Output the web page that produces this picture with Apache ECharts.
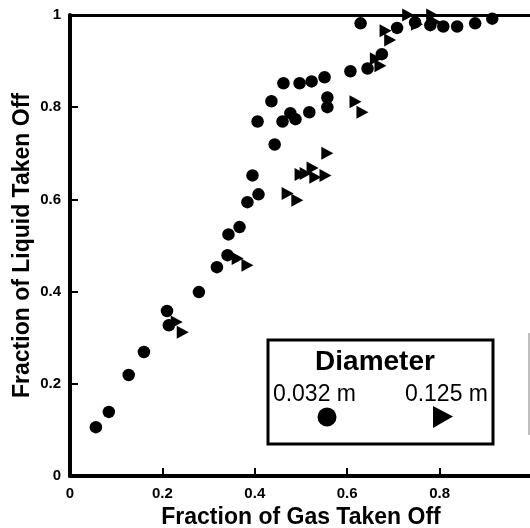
<!DOCTYPE html>
<html>
<head>
<meta charset="utf-8">
<script src="https://cdn.jsdelivr.net/npm/echarts@6/dist/echarts.min.js"></script>
<style>
  html, body { margin: 0; padding: 0; background: #fff; }
  #chart { width: 530px; height: 528px; }
</style>
</head>
<body>
<div id="chart"></div>
<script>
// 0.032 m 管径 (圆点)
const smallPipe = [
    [0.056, 0.106], [0.084, 0.139], [0.127, 0.219], [0.160, 0.269],
    [0.210, 0.358], [0.214, 0.327], [0.279, 0.399], [0.318, 0.453],
    [0.341, 0.479], [0.343, 0.524], [0.367, 0.540], [0.384, 0.594],
    [0.395, 0.652], [0.408, 0.611], [0.406, 0.769], [0.436, 0.813],
    [0.443, 0.719], [0.462, 0.852], [0.460, 0.769], [0.477, 0.787],
    [0.488, 0.774], [0.497, 0.852], [0.518, 0.789], [0.523, 0.856],
    [0.551, 0.865], [0.557, 0.821], [0.557, 0.800], [0.607, 0.878],
    [0.629, 0.982], [0.644, 0.884], [0.675, 0.915], [0.708, 0.972],
    [0.747, 0.984], [0.780, 0.978], [0.808, 0.975], [0.838, 0.975],
    [0.877, 0.982], [0.914, 0.992]
];

// 0.125 m 管径 (三角)
const largePipe = [
    [0.231, 0.334], [0.244, 0.312], [0.363, 0.472], [0.384, 0.457],
    [0.471, 0.613], [0.492, 0.598], [0.499, 0.654], [0.510, 0.656],
    [0.525, 0.668], [0.531, 0.648], [0.553, 0.652], [0.557, 0.700],
    [0.618, 0.812], [0.633, 0.789], [0.662, 0.905], [0.672, 0.890],
    [0.683, 0.966], [0.693, 0.946], [0.732, 1.000], [0.751, 0.980],
    [0.784, 1.000], [0.790, 0.985]
];

const legendTitle = 'Diameter';
const seriesNames = ['0.032 m', '0.125 m'];
const xTitle = 'Fraction of Gas Taken Off';
const yTitle = 'Fraction of Liquid Taken Off';

const font = "'Liberation Sans', Arial, Helvetica, sans-serif";
const triangle = 'path://M0,0L12,6.5L0,13Z';

const chart = echarts.init(document.getElementById('chart'));

const axisCommon = {
    min: 0,
    max: 1,
    interval: 0.2,
    splitLine: { show: false },
    axisLine: { show: true, lineStyle: { color: '#000', width: 4 } },
    axisTick: { show: true, inside: true, length: 8, lineStyle: { color: '#000', width: 2 } },
    axisLabel: { color: '#000', fontFamily: font, fontWeight: 'bold', fontSize: 15 },
    nameLocation: 'middle',
    nameMoveOverlap: false,
    nameTextStyle: { color: '#000', fontFamily: font, fontWeight: 'bold', fontSize: 23 }
};

// 图例框 (边框单独画在最上层, 会压住 "0.032 m" 的开头)
const box = { x: 268, y: 340, width: 225, height: 104 };

const option = {
    animation: false,
    backgroundColor: '#fff',
    grid: { left: 70, top: 15, width: 462, height: 461, outerBoundsMode: 'none' },
    xAxis: [
        Object.assign({}, axisCommon, {
            type: 'value',
            name: xTitle,
            nameGap: 30,
            axisLabel: Object.assign({}, axisCommon.axisLabel, { margin: 10, showMaxLabel: false })
        }),
        {
            type: 'value', position: 'top', min: 0, max: 1,
            axisLine: { show: true, lineStyle: { color: '#000', width: 3 } },
            axisTick: { show: false }, axisLabel: { show: false }, splitLine: { show: false }
        }
    ],
    yAxis: Object.assign({}, axisCommon, {
        type: 'value',
        name: yTitle,
        nameGap: 36,
        axisLabel: Object.assign({}, axisCommon.axisLabel, { margin: 9 })
    }),
    series: [
        {
            name: seriesNames[0],
            type: 'scatter',
            symbol: 'circle',
            symbolSize: 12.5,
            itemStyle: { color: '#000', opacity: 1 },
            data: smallPipe
        },
        {
            name: seriesNames[1],
            type: 'scatter',
            symbol: triangle,
            symbolSize: [12, 13],
            itemStyle: { color: '#000', opacity: 1 },
            data: largePipe
        }
    ],
    graphic: [
        {
            type: 'rect', z: 10,
            shape: box,
            style: { fill: '#fff' }
        },
        {
            type: 'text', z: 11, x: 375, y: 362,
            style: { text: legendTitle, font: 'bold 28px ' + font, fill: '#000', align: 'center', verticalAlign: 'middle' }
        },
        {
            type: 'text', z: 11, x: 356, y: 395,
            style: { text: seriesNames[0], font: '23px ' + font, fill: '#000', align: 'right', verticalAlign: 'middle' }
        },
        {
            type: 'text', z: 11, x: 488, y: 395,
            style: { text: seriesNames[1], font: '23px ' + font, fill: '#000', align: 'right', verticalAlign: 'middle' }
        },
        {
            type: 'circle', z: 11,
            shape: { cx: 327, cy: 417, r: 9.5 },
            style: { fill: '#000' }
        },
        {
            type: 'polygon', z: 11,
            shape: { points: [[433, 406], [453, 416.5], [433, 428]] },
            style: { fill: '#000' }
        },
        {
            type: 'rect', z: 12,
            shape: box,
            style: { fill: 'none', stroke: '#000', lineWidth: 3 }
        },
        {
            // 右侧被裁掉的另一个框的边
            type: 'line', z: 11,
            shape: { x1: 529, y1: 333, x2: 529, y2: 435 },
            style: { stroke: '#aaa', lineWidth: 1.5 }
        }
    ]
};

chart.setOption(option);
</script>
</body>
</html>
